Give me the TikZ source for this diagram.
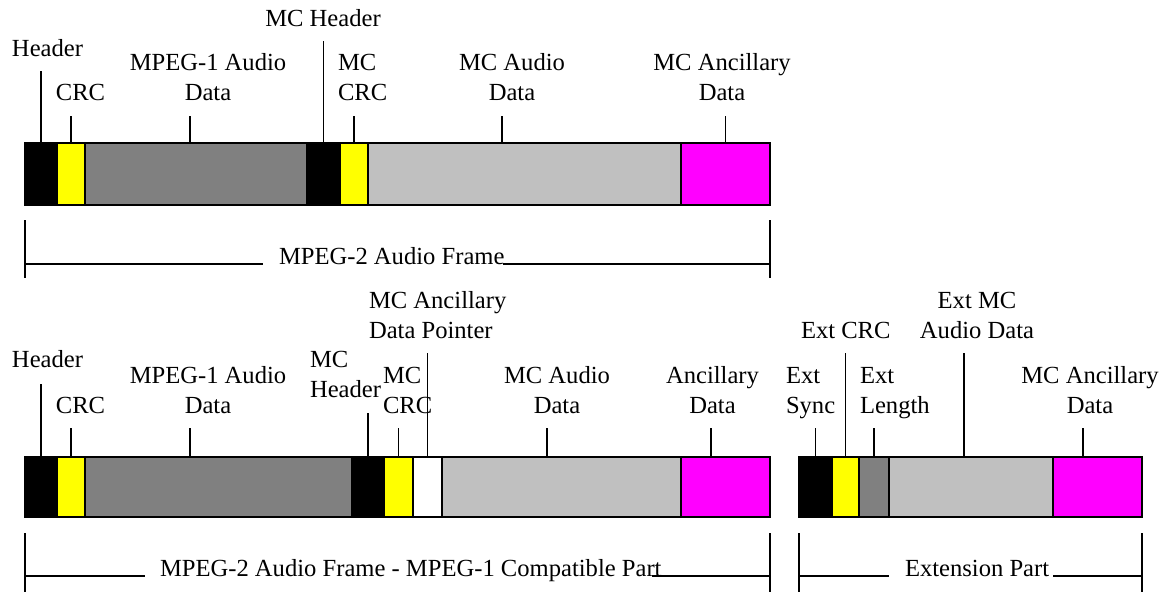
\documentclass[tikz,border=0pt]{standalone}
\usepackage{fontspec}
\setmainfont{Liberation Serif}
\definecolor{dgray}{HTML}{808080}
\definecolor{lgray}{HTML}{C0C0C0}
\definecolor{yel}{HTML}{FFFF00}
\definecolor{mag}{HTML}{FF00FF}
\begin{document}
\begin{tikzpicture}[x=1pt,y=-1pt,
  seg/.style={draw=black,line width=2.6pt,inner sep=0pt,outer sep=0pt,rectangle},
  segA/.style={seg,minimum height=62pt},
  segB/.style={seg,minimum height=60pt},
  tick/.style={line width=1.6pt},
  brk/.style={line width=1.8pt},
  lbl/.style={inner sep=0pt,outer sep=0pt,font=\fontsize{24.6}{29.5}\selectfont},
]
\useasboundingbox (0,0) rectangle (1172,592);
% ---------- top row ----------
\node[segA,fill=black,minimum width=32pt] (hdr1) at (41,174) {};
\node[segA,fill=yel,minimum width=28pt] (crc1) at (71,174) {};
\node[segA,fill=dgray,minimum width=222pt] (aud1) at (196,174) {};
\node[segA,fill=black,minimum width=33pt] (mch1) at (323.5,174) {};
\node[segA,fill=yel,minimum width=28pt] (mcc1) at (354,174) {};
\node[segA,fill=lgray,minimum width=313pt] (mca1) at (524.5,174) {};
\node[segA,fill=mag,minimum width=89pt] (anc1) at (725.5,174) {};
\draw[seg,fill=none] (hdr1.north west) rectangle (anc1.south east);

\draw[tick] (hdr1.north) -- ++(0,-72);
\draw[tick] (crc1.north) -- ++(0,-27);
\draw[tick] ([xshift=-6pt]aud1.north) -- ++(0,-27);
\draw[tick] (mch1.north) -- ++(0,-102);
\draw[tick] (mcc1.north) -- ++(0,-27);
\draw[tick] ([xshift=-22.5pt]mca1.north) -- ++(0,-27);
\draw[tick] (anc1.north) -- ++(0,-27);

\node[lbl,anchor=base] (lhdr1) at (47.5,56) {Header};
\node[lbl,anchor=base] (lcrc1) at (80.5,100) {CRC};
\node[lbl,anchor=base,align=center] (laud1) at (208,100) {MPEG-1 Audio\\Data};
\node[lbl,anchor=base] (lmch1) at (323,26) {MC Header};
\node[lbl,anchor=base west,align=left] (lmcc1) at (338,100) {MC\\CRC};
\node[lbl,anchor=base,align=center] (lmca1) at (512,100) {MC Audio\\Data};
\node[lbl,anchor=base,align=center] (lanc1) at (722,100) {MC Ancillary\\Data};

\coordinate (a1) at (25,220); \coordinate (a2) at (25,278);
\coordinate (a3) at (25,264); \coordinate (a4) at (263,264);
\coordinate (a5) at (503,264); \coordinate (a6) at (770,264);
\coordinate (a7) at (770,220); \coordinate (a8) at (770,278);
\draw[brk] (a1) -- (a2) (a3) -- (a4) (a5) -- (a6) (a7) -- (a8);
\node[lbl,anchor=base west] (fr1) at (279,264) {MPEG-2 Audio Frame};

% ---------- bottom row ----------
\node[segB,fill=black,minimum width=32pt] (hdr2) at (41,487) {};
\node[segB,fill=yel,minimum width=28pt] (crc2) at (71,487) {};
\node[segB,fill=dgray,minimum width=267pt] (aud2) at (218.5,487) {};
\node[segB,fill=black,minimum width=32pt] (mch2) at (368,487) {};
\node[segB,fill=yel,minimum width=29pt] (mcc2) at (398.5,487) {};
\node[segB,fill=white,minimum width=29pt] (ptr2) at (427.5,487) {};
\node[segB,fill=lgray,minimum width=239pt] (mca2) at (561.5,487) {};
\node[segB,fill=mag,minimum width=89pt] (anc2) at (725.5,487) {};
\draw[seg,fill=none] (hdr2.north west) rectangle (anc2.south east);

\draw[tick] (hdr2.north) -- ++(0,-73);
\draw[tick] (crc2.north) -- ++(0,-29);
\draw[tick] ([xshift=-28.5pt]aud2.north) -- ++(0,-29);
\draw[tick] (mch2.north) -- ++(0,-44);
\draw[tick] (mcc2.north) -- ++(0,-29);
\draw[tick] (ptr2.north) -- ++(0,-104);
\draw[tick] ([xshift=-14.5pt]mca2.north) -- ++(0,-29);
\draw[tick] ([xshift=-14.5pt]anc2.north) -- ++(0,-29);

\node[lbl,anchor=base] (lhdr2) at (47.5,367) {Header};
\node[lbl,anchor=base] (lcrc2) at (80.5,413) {CRC};
\node[lbl,anchor=base,align=center] (laud2) at (208,413) {MPEG-1 Audio\\Data};
\node[lbl,anchor=base west,align=left] (lmch2) at (310,397) {MC\\Header};
\node[lbl,anchor=base west,align=left] (lmcc2) at (383,413) {MC\\CRC};
\node[lbl,anchor=base west,align=left] (lptr2) at (369,338) {MC Ancillary\\Data Pointer};
\node[lbl,anchor=base,align=center] (lmca2) at (557,413) {MC Audio\\Data};
\node[lbl,anchor=base,align=center] (lanc2) at (712.5,413) {Ancillary\\Data};

\coordinate (b1) at (25,533); \coordinate (b2) at (25,592);
\coordinate (b3) at (25,576); \coordinate (b4) at (145,576);
\coordinate (b5) at (652,576); \coordinate (b6) at (770,576);
\coordinate (b7) at (770,533); \coordinate (b8) at (770,592);
\draw[brk] (b1) -- (b2) (b3) -- (b4) (b5) -- (b6) (b7) -- (b8);
\node[lbl,anchor=base west] (fr2) at (160,576) {MPEG-2 Audio Frame - MPEG-1 Compatible Part};

% ---------- extension ----------
\node[segB,fill=black,minimum width=33pt] (sync) at (815.5,487) {};
\node[segB,fill=yel,minimum width=27pt] (ecrc) at (845.5,487) {};
\node[segB,fill=dgray,minimum width=30pt] (elen) at (874,487) {};
\node[segB,fill=lgray,minimum width=164pt] (eaud) at (971,487) {};
\node[segB,fill=mag,minimum width=89pt] (eanc) at (1097.5,487) {};
\draw[seg,fill=none] (sync.north west) rectangle (eanc.south east);

\draw[tick] (sync.north) -- ++(0,-29);
\draw[tick] (ecrc.north) -- ++(0,-104);
\draw[tick] (elen.north) -- ++(0,-29);
\draw[tick] ([xshift=-7pt]eaud.north) -- ++(0,-104);
\draw[tick] ([xshift=-14.5pt]eanc.north) -- ++(0,-29);

\node[lbl,anchor=base west,align=left] (lsync) at (786,413) {Ext\\Sync};
\node[lbl,anchor=base west] (lecrc) at (801,338) {Ext CRC};
\node[lbl,anchor=base west,align=left] (lelen) at (860,413) {Ext\\Length};
\node[lbl,anchor=base,align=center] (leaud) at (977,338) {Ext MC\\Audio Data};
\node[lbl,anchor=base,align=center] (leanc) at (1090,413) {MC Ancillary\\Data};

\coordinate (c1) at (799,533); \coordinate (c2) at (799,592);
\coordinate (c3) at (799,576); \coordinate (c4) at (889,576);
\coordinate (c5) at (1053,576); \coordinate (c6) at (1142,576);
\coordinate (c7) at (1142,533); \coordinate (c8) at (1142,592);
\draw[brk] (c1) -- (c2) (c3) -- (c4) (c5) -- (c6) (c7) -- (c8);
\node[lbl,anchor=base west] (fr3) at (905,576) {Extension Part};
\end{tikzpicture}
\end{document}
